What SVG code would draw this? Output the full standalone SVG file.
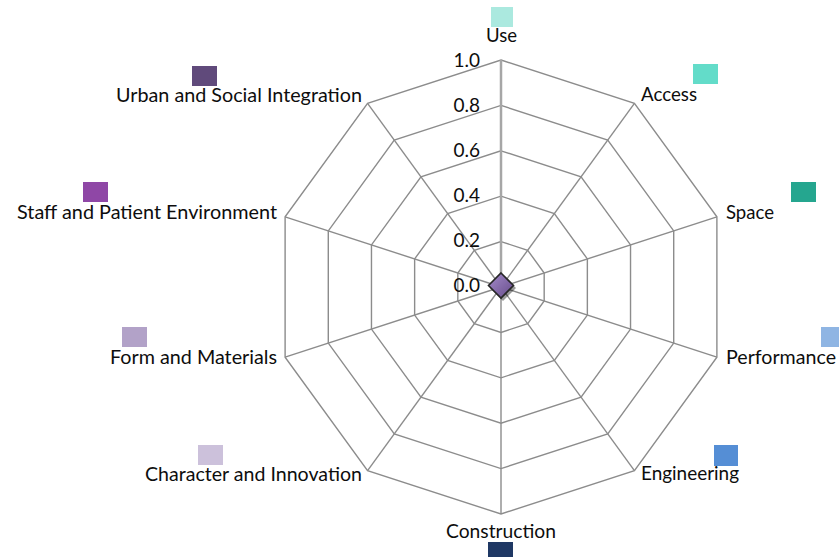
<svg xmlns="http://www.w3.org/2000/svg" width="839" height="557" viewBox="0 0 839 557">
<style>
.grid{fill:none;stroke:#8c8c8c;stroke-width:1.4}
.spoke{stroke:#8c8c8c;stroke-width:1.4}
.lbl{font-family:Lato,"Open Sans","Liberation Sans",sans-serif;font-size:19px;fill:#0d0d0d}
.tick{font-family:Lato,"Open Sans","Liberation Sans",sans-serif;font-size:19px;fill:#0d0d0d;text-anchor:end}
</style>
<defs>
<linearGradient id="dg" x1="0" y1="0" x2="1" y2="1">
<stop offset="0" stop-color="#a58ccb"/>
<stop offset="1" stop-color="#664b8a"/>
</linearGradient>
</defs>
<rect width="839" height="557" fill="#ffffff"/>
<g id="grid">
<polygon class="grid" points="501,60 634.43,103.35 716.89,216.85 716.89,357.15 634.43,470.65 501,514 367.57,470.65 285.11,357.15 285.11,216.85 367.57,103.35"/>
<polygon class="grid" points="501,105.4 607.74,140.08 673.71,230.88 673.71,343.12 607.74,433.92 501,468.6 394.26,433.92 328.29,343.12 328.29,230.88 394.26,140.08"/>
<polygon class="grid" points="501,150.8 581.06,176.81 630.53,244.91 630.53,329.09 581.06,397.19 501,423.2 420.94,397.19 371.47,329.09 371.47,244.91 420.94,176.81"/>
<polygon class="grid" points="501,196.2 554.37,213.54 587.36,258.94 587.36,315.06 554.37,360.46 501,377.8 447.63,360.46 414.64,315.06 414.64,258.94 447.63,213.54"/>
<polygon class="grid" points="501,241.6 527.69,250.27 544.18,272.97 544.18,301.03 527.69,323.73 501,332.4 474.31,323.73 457.82,301.03 457.82,272.97 474.31,250.27"/>
</g>
<g id="connectors">
<line class="spoke" x1="501" y1="287" x2="501" y2="60" style="stroke:#a6a6a6;stroke-width:2.5"/>
<line class="spoke" x1="501" y1="287" x2="634.43" y2="103.35"/>
<line class="spoke" x1="501" y1="287" x2="716.89" y2="216.85"/>
<line class="spoke" x1="501" y1="287" x2="716.89" y2="357.15"/>
<line class="spoke" x1="501" y1="287" x2="634.43" y2="470.65"/>
<line class="spoke" x1="501" y1="287" x2="501" y2="514"/>
<line class="spoke" x1="501" y1="287" x2="367.57" y2="470.65"/>
<line class="spoke" x1="501" y1="287" x2="285.11" y2="357.15"/>
<line class="spoke" x1="501" y1="287" x2="285.11" y2="216.85"/>
<line class="spoke" x1="501" y1="287" x2="367.57" y2="103.35"/>
</g>
<g id="ticks">
<text class="tick" x="480" y="67">1.0</text>
<text class="tick" x="480" y="112">0.8</text>
<text class="tick" x="480" y="157">0.6</text>
<text class="tick" x="480" y="202">0.4</text>
<text class="tick" x="480" y="247">0.2</text>
<text class="tick" x="480" y="292">0.0</text>
</g>
<g id="marker">
<polygon points="503,275 516,288 503,301 490,288" fill="#000" opacity="0.4"/>
<polygon points="501,273 513.5,285.5 501,298 488.5,285.5" fill="url(#dg)" stroke="#262626" stroke-width="1.6"/>
</g>
<g id="node-use"><rect x="491" y="7" width="22" height="20" fill="#abe9df"/><text class="lbl" x="501.5" y="42" text-anchor="middle" textLength="31" lengthAdjust="spacingAndGlyphs">Use</text></g>
<g id="node-access"><rect x="693" y="64" width="25" height="20" fill="#63dcc9"/><text class="lbl" x="641" y="101" textLength="56" lengthAdjust="spacingAndGlyphs">Access</text></g>
<g id="node-space"><rect x="791" y="182" width="25" height="20" fill="#25a68f"/><text class="lbl" x="726" y="219" textLength="48" lengthAdjust="spacingAndGlyphs">Space</text></g>
<g id="node-performance"><rect x="821" y="327" width="25" height="20" fill="#8fb5e3"/><text class="lbl" x="726" y="364" textLength="110" lengthAdjust="spacingAndGlyphs">Performance</text></g>
<g id="node-engineering"><rect x="714" y="445" width="24" height="21" fill="#558ed5"/><text class="lbl" x="641" y="480" textLength="98" lengthAdjust="spacingAndGlyphs">Engineering</text></g>
<g id="node-construction"><rect x="488" y="542" width="25" height="20" fill="#1f3864"/><text class="lbl" x="501" y="538" text-anchor="middle" textLength="110" lengthAdjust="spacingAndGlyphs">Construction</text></g>
<g id="node-character"><rect x="198" y="445" width="25" height="20" fill="#ccc1db"/><text class="lbl" x="362" y="481" text-anchor="end" textLength="217" lengthAdjust="spacingAndGlyphs">Character and Innovation</text></g>
<g id="node-form"><rect x="122" y="327" width="25" height="20" fill="#b2a2c8"/><text class="lbl" x="277" y="364" text-anchor="end" textLength="167" lengthAdjust="spacingAndGlyphs">Form and Materials</text></g>
<g id="node-staff"><rect x="83" y="182" width="25" height="20" fill="#8f47a6"/><text class="lbl" x="277" y="219" text-anchor="end" textLength="260" lengthAdjust="spacingAndGlyphs">Staff and Patient Environment</text></g>
<g id="node-urban"><rect x="192" y="66" width="25" height="20" fill="#604a7b"/><text class="lbl" x="362" y="102" text-anchor="end" textLength="246" lengthAdjust="spacingAndGlyphs">Urban and Social Integration</text></g>
</svg>
